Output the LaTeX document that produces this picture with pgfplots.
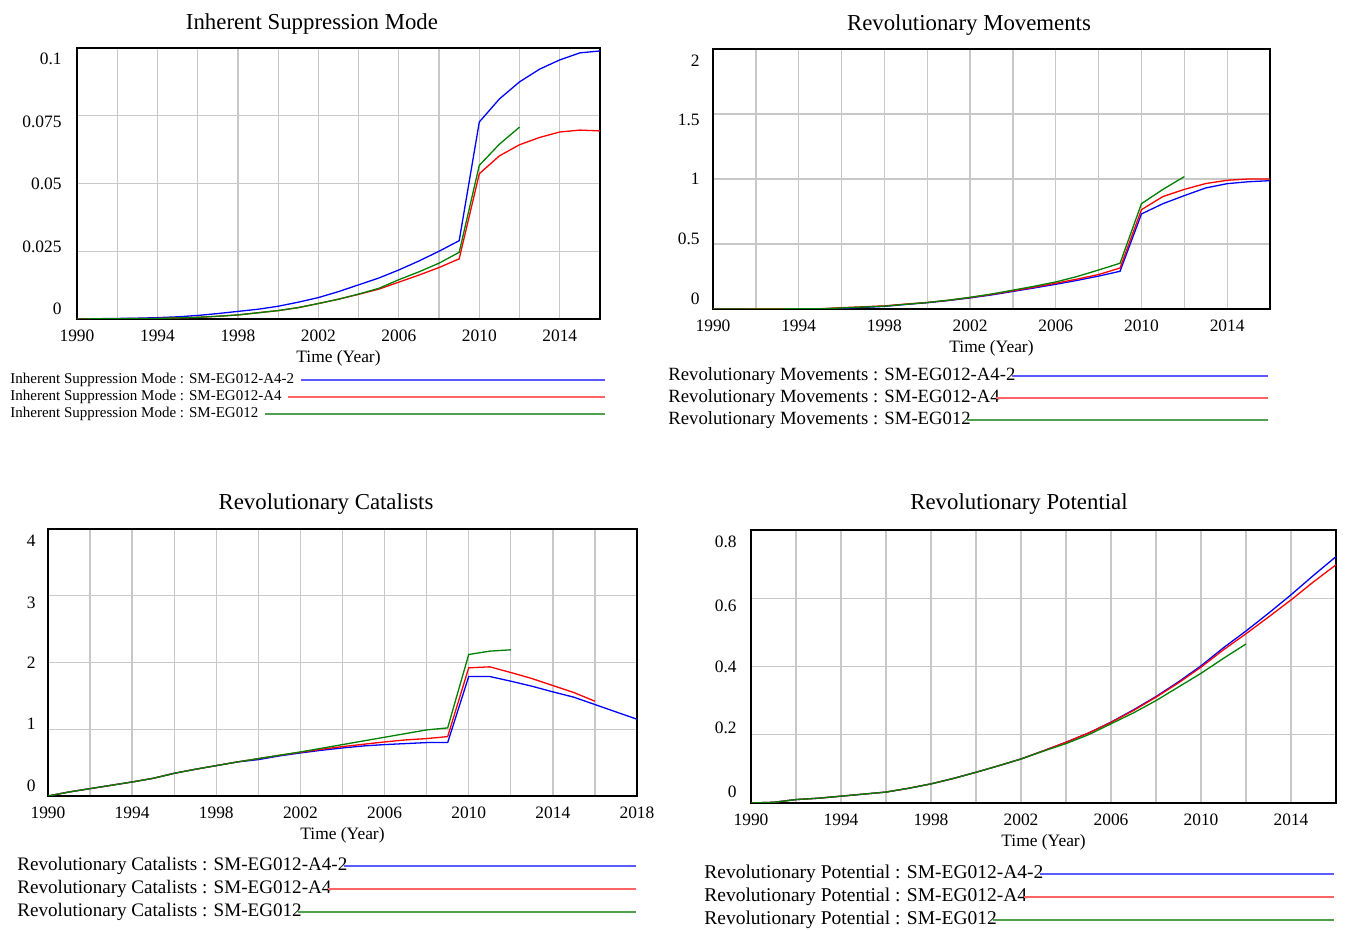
\documentclass[border=0pt]{standalone}
\usepackage{pgfplots}
\pgfplotsset{compat=1.18}
\usepackage{fontspec}
\setmainfont{Liberation Serif}
\definecolor{dblue}{RGB}{0,0,255}
\definecolor{dred}{RGB}{255,0,0}
\definecolor{dgreen}{RGB}{0,128,0}
\definecolor{lblue}{RGB}{90,90,255}
\definecolor{lred}{RGB}{255,100,100}
\definecolor{lgreen}{RGB}{80,160,80}
\definecolor{gridgray}{RGB}{200,200,200}
\pgfplotsset{
  vstyle/.style={
    scale only axis, anchor=south west,
    axis line style={line width=1.1pt, black},
    grid=both,
    major grid style={gridgray, line width=0.65pt},
    minor grid style={gridgray, line width=0.65pt},
    tick style={draw=none}, minor tick style={draw=none},
    scaled ticks=false,
    tick label style={font=\fontsize{8.7}{10}\selectfont},
    x tick label style={anchor=center, yshift=-8.25pt},
    yticklabels={},
    extra y tick style={grid=none},
    xlabel={Time (Year)},
    label style={font=\fontsize{8.7}{10}\selectfont},
    xlabel style={at={(axis description cs:0.5,0)}, anchor=center, yshift=-19.5pt},
    every axis plot/.append style={line width=0.65pt, mark=none},
  }
}
\newcommand{\legA}{\fontsize{7.5}{9}\selectfont}
\newcommand{\legB}{\fontsize{9.35}{11}\selectfont}
\newcommand{\legC}{\fontsize{9.55}{11}\selectfont}
\newcommand{\legD}{\fontsize{9.75}{11}\selectfont}
\newcommand{\ttl}{\fontsize{11.4}{13}\selectfont}
\begin{document}
\begin{tikzpicture}
\useasboundingbox (0,0) rectangle (672.5pt,465pt);

% ---------------- Panel 1: Inherent Suppression Mode
\begin{axis}[vstyle, at={(38.5pt,305.5pt)}, width=261.5pt, height=135.5pt,
  xmin=1990, xmax=2016, ymin=0, ymax=0.1,
  xtick={1990,1994,1998,2002,2006,2010,2014},
  xticklabels={1990,1994,1998,2002,2006,2010,2014},
  minor xtick={1992,1996,2000,2004,2008,2012,2016},
  ytick={0,0.025,0.05,0.075,0.1},
  extra y ticks={0.0037,0.0266,0.0498,0.0727,0.0959},
  extra y tick labels={0,0.025,0.05,0.075,0.1},
  y tick label style={anchor=east, inner sep=0pt, xshift=-7.5pt}]
\addplot[dblue] coordinates {(1990,0) (1991,0.0001) (1992,0.0002) (1993,0.0003) (1994,0.0005) (1995,0.0008) (1996,0.0013) (1997,0.002) (1998,0.0028) (1999,0.0036) (2000,0.0047) (2001,0.0062) (2002,0.0079) (2003,0.0101) (2004,0.0126) (2005,0.0151) (2006,0.0181) (2007,0.0214) (2008,0.025) (2009,0.0289) (2010,0.0727) (2011,0.0812) (2012,0.0875) (2013,0.0922) (2014,0.0956) (2015,0.0982) (2016,0.0989)};
\addplot[dred] coordinates {(1990,0) (1992,0.0001) (1994,0.0002) (1995,0.0004) (1996,0.0006) (1997,0.001) (1998,0.0015) (1999,0.0023) (2000,0.0031) (2001,0.0042) (2002,0.0057) (2003,0.0073) (2004,0.0091) (2005,0.011) (2006,0.0136) (2007,0.0162) (2008,0.019) (2009,0.0222) (2010,0.0536) (2011,0.0602) (2012,0.0643) (2013,0.067) (2014,0.069) (2015,0.0697) (2016,0.0694)};
\addplot[dgreen] coordinates {(1990,0) (1992,0.0001) (1994,0.0002) (1995,0.0004) (1996,0.0006) (1997,0.001) (1998,0.0015) (1999,0.0023) (2000,0.0031) (2001,0.0042) (2002,0.0057) (2003,0.0073) (2004,0.0092) (2005,0.0113) (2006,0.0145) (2007,0.0174) (2008,0.0206) (2009,0.0246) (2010,0.0567) (2011,0.0645) (2012,0.0708)};
\end{axis}

% ---------------- Panel 2: Revolutionary Movements
\begin{axis}[vstyle, at={(356.5pt,310.5pt)}, width=278.5pt, height=130pt,
  xmin=1990, xmax=2016, ymin=0, ymax=2,
  xtick={1990,1994,1998,2002,2006,2010,2014},
  xticklabels={1990,1994,1998,2002,2006,2010,2014},
  minor xtick={1992,1996,2000,2004,2008,2012,2016},
  ytick={0,0.5,1,1.5,2},
  extra y ticks={0.077,0.538,1.0,1.454,1.908},
  extra y tick labels={0,0.5,1,1.5,2},
  y tick label style={anchor=east, inner sep=0pt, xshift=-6.5pt}]
\addplot[dblue] coordinates {(1990,0) (1995,0) (1996,0.006) (1997,0.012) (1998,0.02) (1999,0.035) (2000,0.048) (2001,0.065) (2002,0.085) (2003,0.108) (2004,0.135) (2005,0.162) (2006,0.19) (2007,0.22) (2008,0.253) (2009,0.29) (2010,0.731) (2011,0.81) (2012,0.872) (2013,0.931) (2014,0.964) (2015,0.979) (2016,0.987)};
\addplot[dred] coordinates {(1990,0) (1995,0.002) (1996,0.01) (1997,0.017) (1998,0.024) (1999,0.038) (2000,0.05) (2001,0.067) (2002,0.088) (2003,0.112) (2004,0.14) (2005,0.168) (2006,0.198) (2007,0.23) (2008,0.265) (2009,0.315) (2010,0.764) (2011,0.865) (2012,0.92) (2013,0.965) (2014,0.99) (2015,1.0) (2016,1.0)};
\addplot[dgreen] coordinates {(1990,0) (1995,0.001) (1996,0.008) (1997,0.015) (1998,0.022) (1999,0.036) (2000,0.05) (2001,0.068) (2002,0.09) (2003,0.115) (2004,0.145) (2005,0.175) (2006,0.208) (2007,0.25) (2008,0.3) (2009,0.352) (2010,0.81) (2011,0.92) (2012,1.018)};
\end{axis}

% ---------------- Panel 3: Revolutionary Catalists
\begin{axis}[vstyle, at={(24pt,67pt)}, width=294.5pt, height=133.5pt,
  xmin=1990, xmax=2018, ymin=0, ymax=4,
  xtick={1990,1994,1998,2002,2006,2010,2014,2018},
  xticklabels={1990,1994,1998,2002,2006,2010,2014,2018},
  minor xtick={1992,1996,2000,2004,2008,2012,2016},
  ytick={0,1,2,3,4},
  extra y ticks={0.15,1.077,1.99,2.89,3.82},
  extra y tick labels={0,1,2,3,4},
  y tick label style={anchor=east, inner sep=0pt, xshift=-6pt}]
\addplot[dblue] coordinates {(1990,0) (1991,0.06) (1992,0.11) (1993,0.16) (1994,0.21) (1995,0.265) (1996,0.34) (1997,0.4) (1998,0.455) (1999,0.51) (2000,0.545) (2001,0.6) (2002,0.645) (2003,0.685) (2004,0.72) (2005,0.75) (2006,0.77) (2007,0.785) (2008,0.8) (2009,0.8) (2010,1.79) (2011,1.79) (2012,1.72) (2013,1.645) (2014,1.56) (2015,1.48) (2016,1.37) (2017,1.26) (2018,1.15)};
\addplot[dred] coordinates {(1990,0) (1991,0.06) (1992,0.11) (1993,0.16) (1994,0.21) (1995,0.265) (1996,0.34) (1997,0.4) (1998,0.455) (1999,0.51) (2000,0.56) (2001,0.61) (2002,0.655) (2003,0.7) (2004,0.74) (2005,0.775) (2006,0.81) (2007,0.84) (2008,0.86) (2009,0.89) (2010,1.92) (2011,1.935) (2012,1.85) (2013,1.76) (2014,1.655) (2015,1.55) (2016,1.42)};
\addplot[dgreen] coordinates {(1990,0) (1991,0.06) (1992,0.11) (1993,0.16) (1994,0.21) (1995,0.265) (1996,0.34) (1997,0.4) (1998,0.455) (1999,0.51) (2000,0.56) (2001,0.61) (2002,0.66) (2003,0.715) (2004,0.77) (2005,0.825) (2006,0.88) (2007,0.935) (2008,0.99) (2009,1.02) (2010,2.12) (2011,2.17) (2012,2.19)};
\end{axis}

% ---------------- Panel 4: Revolutionary Potential
\begin{axis}[vstyle, at={(375.5pt,63.5pt)}, width=292.5pt, height=136.5pt,
  xmin=1990, xmax=2016, ymin=0, ymax=0.8,
  xtick={1990,1994,1998,2002,2006,2010,2014},
  xticklabels={1990,1994,1998,2002,2006,2010,2014},
  minor xtick={1992,1996,2000,2004,2008,2012,2016},
  ytick={0,0.2,0.4,0.6,0.8},
  extra y ticks={0.032,0.22,0.399,0.577,0.765},
  extra y tick labels={0,0.2,0.4,0.6,0.8},
  y tick label style={anchor=east, inner sep=0pt, xshift=-7pt}]
\addplot[dblue] coordinates {(1990,0) (1991,0.002) (1992,0.01) (1993,0.014) (1994,0.02) (1995,0.026) (1996,0.032) (1997,0.043) (1998,0.056) (1999,0.072) (2000,0.09) (2001,0.109) (2002,0.129) (2003,0.153) (2004,0.178) (2005,0.205) (2006,0.237) (2007,0.273) (2008,0.312) (2009,0.355) (2010,0.402) (2011,0.455) (2012,0.504) (2013,0.556) (2014,0.61) (2015,0.667) (2016,0.722)};
\addplot[dred] coordinates {(1990,0) (1991,0.002) (1992,0.01) (1993,0.014) (1994,0.02) (1995,0.026) (1996,0.032) (1997,0.043) (1998,0.056) (1999,0.072) (2000,0.09) (2001,0.109) (2002,0.129) (2003,0.153) (2004,0.178) (2005,0.205) (2006,0.236) (2007,0.271) (2008,0.31) (2009,0.352) (2010,0.398) (2011,0.449) (2012,0.496) (2013,0.545) (2014,0.595) (2015,0.648) (2016,0.698)};
\addplot[dgreen] coordinates {(1990,0) (1991,0.002) (1992,0.01) (1993,0.014) (1994,0.02) (1995,0.026) (1996,0.032) (1997,0.043) (1998,0.056) (1999,0.072) (2000,0.09) (2001,0.109) (2002,0.129) (2003,0.152) (2004,0.174) (2005,0.2) (2006,0.232) (2007,0.264) (2008,0.3) (2009,0.34) (2010,0.38) (2011,0.424) (2012,0.466)};
\end{axis}

% ---------------- Titles
\node[font=\ttl] at (156pt,453pt) {Inherent Suppression Mode};
\node[font=\ttl] at (484.5pt,452.5pt) {Revolutionary Movements};
\node[font=\ttl] at (163pt,213pt) {Revolutionary Catalists};
\node[font=\ttl] at (509.5pt,213pt) {Revolutionary Potential};

% ---------------- Legends
\node[font=\legA, anchor=west, inner sep=0pt] (a1) at (5pt,275pt) {Inherent Suppression Mode : SM-EG012-A4-2};
\node[font=\legA, anchor=west, inner sep=0pt] (a2) at (5pt,266.5pt) {Inherent Suppression Mode : SM-EG012-A4};
\node[font=\legA, anchor=west, inner sep=0pt] (a3) at (5pt,258pt) {Inherent Suppression Mode : SM-EG012};
\draw[lblue, line width=0.9pt] ([xshift=3pt]a1.east) -- (302.5pt,275pt);
\draw[lred, line width=0.9pt] ([xshift=3pt]a2.east) -- (302.5pt,266.5pt);
\draw[lgreen, line width=0.9pt] ([xshift=3pt]a3.east) -- (302.5pt,258pt);

\node[font=\legB, anchor=west, inner sep=0pt] (b1) at (334pt,277pt) {Revolutionary Movements : SM-EG012-A4-2};
\node[font=\legB, anchor=west, inner sep=0pt] (b2) at (334pt,266pt) {Revolutionary Movements : SM-EG012-A4};
\node[font=\legB, anchor=west, inner sep=0pt] (b3) at (334pt,255pt) {Revolutionary Movements : SM-EG012};
\draw[lblue, line width=0.9pt] ([xshift=-2pt]b1.east) -- (634pt,277pt);
\draw[lred, line width=0.9pt] ([xshift=-2pt]b2.east) -- (634pt,266pt);
\draw[lgreen, line width=0.9pt] ([xshift=-2pt]b3.east) -- (634pt,255pt);

\node[font=\legC, anchor=west, inner sep=0pt] (c1) at (8.5pt,32pt) {Revolutionary Catalists : SM-EG012-A4-2};
\node[font=\legC, anchor=west, inner sep=0pt] (c2) at (8.5pt,20.5pt) {Revolutionary Catalists : SM-EG012-A4};
\node[font=\legC, anchor=west, inner sep=0pt] (c3) at (8.5pt,9pt) {Revolutionary Catalists : SM-EG012};
\draw[lblue, line width=0.9pt] ([xshift=-2pt]c1.east) -- (318pt,32pt);
\draw[lred, line width=0.9pt] ([xshift=-2pt]c2.east) -- (318pt,20.5pt);
\draw[lgreen, line width=0.9pt] ([xshift=-2pt]c3.east) -- (318pt,9pt);

\node[font=\legD, anchor=west, inner sep=0pt] (d1) at (352pt,28pt) {Revolutionary Potential : SM-EG012-A4-2};
\node[font=\legD, anchor=west, inner sep=0pt] (d2) at (352pt,16.5pt) {Revolutionary Potential : SM-EG012-A4};
\node[font=\legD, anchor=west, inner sep=0pt] (d3) at (352pt,5pt) {Revolutionary Potential : SM-EG012};
\draw[lblue, line width=0.9pt] ([xshift=-2pt]d1.east) -- (667pt,28pt);
\draw[lred, line width=0.9pt] ([xshift=-2pt]d2.east) -- (667pt,16.5pt);
\draw[lgreen, line width=0.9pt] ([xshift=-2pt]d3.east) -- (667pt,5pt);
\end{tikzpicture}
\end{document}
